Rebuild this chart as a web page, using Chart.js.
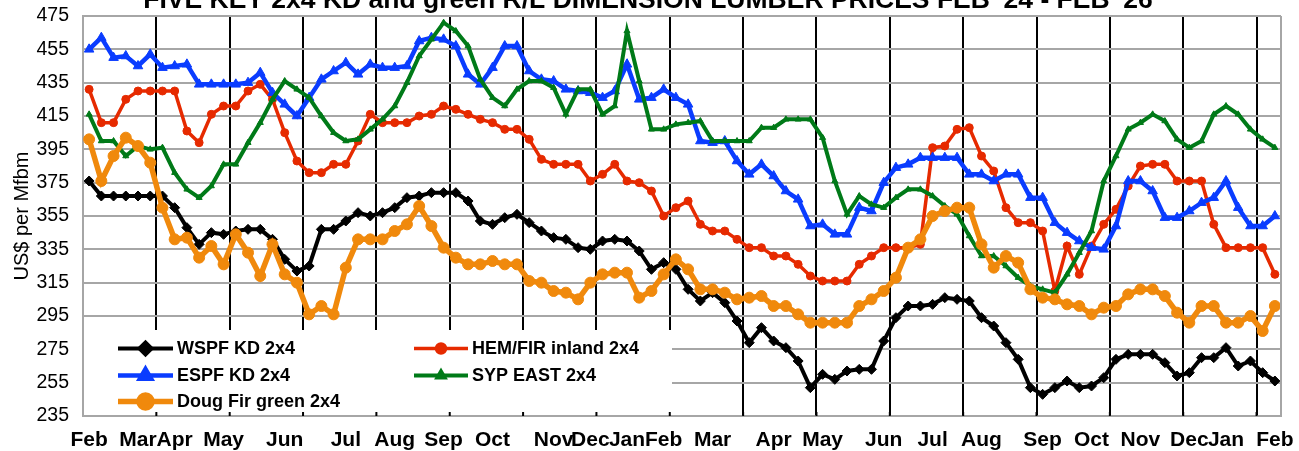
<!DOCTYPE html>
<html><head><meta charset="utf-8">
<script src="https://cdn.jsdelivr.net/npm/chart.js@4.4.1/dist/chart.umd.min.js"></script>
<style>
html,body{margin:0;padding:0;background:#fff;}
#wrap{position:relative;width:1299px;height:451px;overflow:hidden;background:#fff;}
#box{position:absolute;left:0;top:-20px;width:1299px;height:471px;}
</style></head><body>
<div id="wrap"><div id="box"><canvas id="c"></canvas></div></div>
<script>
const SHIFT = 20;
const TITLE = "FIVE KEY 2x4 KD and green R/L DIMENSION LUMBER PRICES FEB '24 - FEB '26";
const weeks = ['Feb','','','','Mar','','','Apr','','','','May','','','','','Jun','','','','','Jul','','','','Aug','','','','Sep','','','','Oct','','','','','Nov','','','Dec','','','Jan','','','Feb','','','','Mar','','','','','Apr','','','','May','','','','','Jun','','','','Jul','','','','Aug','','','','','Sep','','','','Oct','','','','Nov','','','','Dec','','','Jan','','','','Feb'];
const yTicks = [235,255,275,295,315,335,355,375,395,415,435,455,475];

const wspf = [376,367,367,367,367,367,367,360,348,338,
345,344,346,347,347,341,329,322,325,347,
347,352,357,355,357,360,366,367,369,369,
369,364,352,350,354,356,351,346,342,341,
336,335,340,341,340,334,323,327,323,311,
304,309,303,292,279,288,280,276,268,252,
260,257,262,263,263,280,294,301,301,302,
306,305,304,294,289,279,269,252,248,252,
256,252,253,258,269,272,272,272,267,259,
261,270,270,276,265,268,261,256];
const hemfir = [431,411,411,425,430,430,430,430,406,399,
416,421,421,430,434,425,405,388,381,381,
386,386,400,416,411,411,411,415,416,421,
419,416,413,411,407,407,401,389,386,386,
386,376,380,386,376,375,370,355,360,364,
350,346,346,341,336,336,331,331,326,319,
316,316,316,326,331,336,336,336,338,396,
397,407,408,391,382,360,351,351,346,310,
337,320,337,350,359,373,385,386,386,376,
376,376,350,336,336,336,336,320];
const espf = [455,462,450,451,445,452,444,445,446,434,
434,434,434,435,441,429,422,415,426,437,
442,447,440,446,444,444,445,460,462,461,
457,440,434,444,457,457,442,437,436,431,
430,429,426,430,446,425,426,431,426,422,
400,399,400,388,380,386,379,370,365,349,
350,344,344,360,358,375,384,386,390,390,
390,390,380,380,376,380,380,366,366,351,
345,340,336,335,349,376,376,370,354,354,
358,363,366,376,360,349,349,355];
const sypEast = [416,400,400,391,397,395,396,381,371,366,
373,386,386,399,411,425,436,431,426,415,
405,400,401,407,413,421,435,451,461,471,
466,457,437,426,421,431,436,436,432,416,
431,431,416,421,466,436,407,407,410,411,
412,400,400,400,400,408,408,413,413,413,
402,376,356,367,362,360,366,371,371,367,
361,356,343,331,331,325,318,313,311,309,
320,333,346,376,391,407,411,416,412,401,
396,400,416,421,416,407,401,396];
const dougFir = [401,376,391,402,397,387,360,341,342,330,
337,326,344,333,319,338,320,315,296,301,
296,324,341,341,341,346,350,361,349,336,
330,326,326,328,326,326,316,315,310,309,
305,315,320,321,321,306,310,320,329,323,
311,311,309,305,306,307,301,301,296,291,
291,291,291,301,305,310,318,336,341,355,
358,360,360,338,324,331,327,311,306,305,
302,301,296,300,301,308,311,311,307,297,
291,301,301,291,291,295,286,301];

const FONT = "'Liberation Sans', Arial, sans-serif";
const series = [
  {label:'WSPF KD 2x4', data:wspf, color:'#000000', lw:4, style:'rectRot', r:5, lr:6, order:5},
  {label:'HEM/FIR inland 2x4', data:hemfir, color:'#E62A00', lw:3.5, style:'circle', r:4, lr:4.5, order:4},
  {label:'ESPF KD 2x4', data:espf, color:'#0A3CFF', lw:4.5, style:'triangle', r:5.5, lr:6.5, order:3},
  {label:'SYP EAST 2x4', data:sypEast, color:'#007A18', lw:4, style:'triangle', r:3.5, lr:4, order:2},
  {label:'Doug Fir green 2x4', data:dougFir, color:'#F0890C', lw:5.5, style:'circle', r:5.5, lr:6.5, order:1}
];

const extrasPlugin = {
  id:'extras',
  afterDatasetsDraw(chart){
    const ctx = chart.ctx, a = chart.chartArea;
    ctx.save();
    ctx.strokeStyle = '#a6a6a6'; ctx.lineWidth = 2;
    ctx.beginPath(); ctx.moveTo(a.right, a.top); ctx.lineTo(a.right, a.bottom); ctx.stroke();
    const top = 330 + SHIFT;
    ctx.fillStyle = '#ffffff';
    ctx.fillRect(a.left + 1, top, 672 - a.left - 1, a.bottom - top - 1);
    const xs = chart.scales.x;
    ctx.strokeStyle = '#000'; ctx.lineWidth = 2;
    for (let i = 6; i < weeks.length; i += 6) {
      const px = (xs.getPixelForTick(i) + xs.getPixelForTick(i-1)) / 2;
      ctx.beginPath(); ctx.moveTo(px, a.bottom - 4); ctx.lineTo(px, a.bottom); ctx.stroke();
    }
    const entries = [
      {s:series[0], x0:118, x1:173, y:348.5},
      {s:series[1], x0:414, x1:468, y:348.5},
      {s:series[2], x0:118, x1:173, y:375.5},
      {s:series[3], x0:414, x1:468, y:375.5},
      {s:series[4], x0:118, x1:173, y:401.5}
    ];
    ctx.font = 'bold 18px ' + FONT;
    ctx.textBaseline = 'middle';
    ctx.textAlign = 'left';
    for (const e of entries) {
      const y = e.y + SHIFT;
      ctx.strokeStyle = e.s.color; ctx.lineWidth = e.s.lw;
      ctx.beginPath(); ctx.moveTo(e.x0, y); ctx.lineTo(e.x1, y); ctx.stroke();
      ctx.fillStyle = e.s.color;
      Chart.helpers.drawPoint(ctx, {pointStyle:e.s.style, radius:e.s.lr, rotation:0, borderWidth:1}, (e.x0+e.x1)/2, y);
      ctx.fillStyle = '#000';
      ctx.fillText(e.s.label, e.x1 + 4, y + 1);
    }
    ctx.restore();
  },
  afterDraw(chart){
    const ctx = chart.ctx;
    ctx.save();
    ctx.font = 'bold 26.5px ' + FONT;
    ctx.fillStyle = '#000';
    ctx.textAlign = 'center';
    ctx.textBaseline = 'alphabetic';
    ctx.fillText(TITLE, 648, SHIFT + 7.5);
    ctx.restore();
  }
};

new Chart(document.getElementById('c'), {
  type:'line',
  data:{
    labels:weeks,
    datasets:series.map(s => ({
      label:s.label, data:s.data, borderColor:s.color, backgroundColor:s.color,
      borderWidth:s.lw, pointStyle:s.style, pointRadius:s.r, pointBorderWidth:1,
      pointBorderColor:s.color, pointBackgroundColor:s.color, tension:0, order:s.order
    }))
  },
  options:{
    responsive:true, maintainAspectRatio:false, animation:false,
    layout:{padding:{left:0,right:18,top:SHIFT + 16,bottom:0}},
    plugins:{ legend:{display:false}, tooltip:{enabled:false}, title:{display:false} },
    scales:{
      x:{type:'category', offset:true,
        grid:{offset:true, drawTicks:false, lineWidth:2,
          color:c => (c.index % 6 === 0 && c.index > 0 && c.index < weeks.length) ? '#000000' : 'rgba(0,0,0,0)'},
        border:{display:true, color:'#a6a6a6', width:2},
        ticks:{autoSkip:false, maxRotation:0, minRotation:0, color:'#000', padding:12,
          font:{family:FONT, size:21, weight:'bold'}},
        afterFit:s => { s.height = 35; s.paddingLeft = 0; s.paddingRight = 0; }
      },
      y:{min:235, max:475,
        afterBuildTicks:s => { s.ticks = yTicks.map(v => ({value:v})); },
        grid:{color:'#a6a6a6', lineWidth:2, drawTicks:false},
        border:{display:true, color:'#a6a6a6', width:2},
        ticks:{color:'#000', padding:14, font:{family:FONT, size:19.5}},
        title:{display:true, text:'US$ per Mfbm', color:'#000', font:{family:FONT, size:20}, padding:{top:10,bottom:0}},
        afterFit:s => { s.width = 83; s.paddingTop = 0; s.paddingBottom = 0; }
      }
    }
  },
  plugins:[extrasPlugin]
});
</script>
</body></html>
